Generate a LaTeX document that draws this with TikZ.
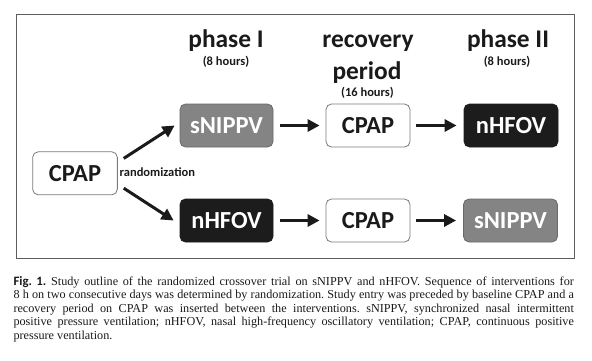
\documentclass[tikz,border=0pt]{standalone}
\usepackage{fontspec}
\setmainfont{Liberation Serif}
\setsansfont{Carlito}
\definecolor{frameline}{HTML}{5E5E5E}
\definecolor{boxline}{HTML}{7A7A7A}
\definecolor{boxgray}{HTML}{848484}
\definecolor{boxdark}{HTML}{1C1C1C}
\definecolor{ink}{HTML}{1A1A1A}
\usetikzlibrary{calc, arrows.meta}

\begin{document}
\frenchspacing
\begin{tikzpicture}[x=1pt, y=-1pt,
  vent/.style={draw=boxline, line width=0.8pt, fill=white, rounded corners=5.5pt,
              minimum height=43pt, inner sep=0pt, text=ink,
              font=\sffamily\bfseries\fontsize{24.5}{28}\selectfont},
  ventgray/.style={vent, draw=boxgray!80!black, fill=boxgray, text=white},
  ventdark/.style={vent, draw=boxdark, fill=boxdark, text=white},
  phase/.style={anchor=base, inner sep=0pt, text=ink,
              font=\sffamily\bfseries\fontsize{25.4}{30}\selectfont},
  hours/.style={anchor=base, inner sep=0pt, text=ink,
              font=\sffamily\bfseries\fontsize{12.5}{15}\selectfont},
  arr/.style={-{Triangle[length=12pt, width=12pt]}, line width=3pt, draw=ink},
  caption/.style={anchor=north west, inner sep=0pt, text width=560.4pt,
              align=justify, text=ink, font=\fontsize{12.2}{13.5}\selectfont},
]
\useasboundingbox (0,0) rectangle (592,361);
\draw[frameline, line width=1pt] (16,15) rectangle (574,258);

\node[phase] (h1) at (226,48) {phase I};
\node[hours] (t1) at (226,66) {(8 hours)};
\node[phase] (h2) at (368,48) {recovery};
\node[phase] (h2b) at (367,80) {period};
\node[hours] (t2) at (367.5,96) {(16 hours)};
\node[phase] (h3) at (508,48) {phase II};
\node[hours] (t3) at (507,66) {(8 hours)};

\node[vent, minimum width=84.7pt] (cpap0) at (75,173.3) {CPAP};
\node[ventgray, minimum width=93pt] (sn1) at (226.5,125.5) {sNIPPV};
\node[vent, minimum width=84pt] (cp1) at (368,125.5) {CPAP};
\node[ventdark, minimum width=94pt] (nh1) at (511,125.5) {nHFOV};
\node[ventdark, minimum width=93pt] (nh2) at (226.5,220.5) {nHFOV};
\node[vent, minimum width=84pt] (cp2) at (368,220.5) {CPAP};
\node[ventgray, minimum width=94pt] (sn2) at (510.5,220.5) {sNIPPV};

\node[hours, anchor=base west] (rnd) at (119.5,176) {randomization};

\draw[arr] ($(cpap0.north east)+(6,7)$) -- ($(sn1.west)+(-5,0)$);
\draw[arr] ($(cpap0.south east)+(6,-7)$) -- ($(nh2.west)+(-6,0)$);
\draw[arr, shorten <=7pt, shorten >=6pt] (sn1.east) -- (cp1.west);
\draw[arr, shorten <=6pt, shorten >=7pt] (cp1.east) -- (nh1.west);
\draw[arr, shorten <=7pt, shorten >=6pt] (nh2.east) -- (cp2.west);
\draw[arr, shorten <=6pt, shorten >=7pt] (cp2.east) -- (sn2.west);

\node[caption] (cap) at (13.3,276) {{\sffamily\bfseries\fontsize{12.8}{13.5}\selectfont Fig.~1.}
  Study outline of the randomized crossover trial on sNIPPV and nHFOV. Sequence of interventions for\linebreak
  8~h on two consecutive days was determined by randomization. Study entry was preceded by baseline CPAP and a\linebreak
  recovery period on CPAP was inserted between the interventions. sNIPPV, synchronized nasal intermittent\linebreak
  positive pressure ventilation; nHFOV, nasal high-frequency oscillatory ventilation; CPAP, continuous positive\linebreak
  pressure ventilation.};
\end{tikzpicture}
\end{document}
